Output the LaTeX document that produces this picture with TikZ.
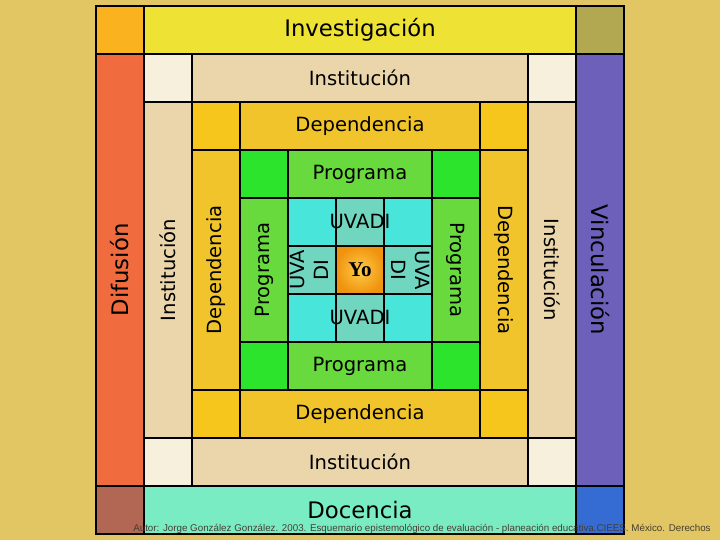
\documentclass[tikz,border=0pt]{standalone}
\usepackage{fontspec}
\usepackage{graphicx}
\usepackage{xcolor}
\setsansfont{DejaVu Sans}
\newfontfamily\piefont{Liberation Sans}
\newfontfamily\yofont{Liberation Serif}
\usetikzlibrary{positioning}

\definecolor{pergamino}{RGB}{226,198,100}
\definecolor{inv}{RGB}{238,226,52}
\definecolor{esqa}{RGB}{250,178,30}
\definecolor{esqb}{RGB}{178,168,82}
\definecolor{esqc}{RGB}{178,102,84}
\definecolor{esqd}{RGB}{52,108,212}
\definecolor{dif}{RGB}{240,108,62}
\definecolor{vin}{RGB}{108,96,186}
\definecolor{doc}{RGB}{122,236,196}
\definecolor{inst}{RGB}{234,214,170}
\definecolor{instesq}{RGB}{246,240,220}
\definecolor{dep}{RGB}{240,196,42}
\definecolor{depesq}{RGB}{246,198,28}
\definecolor{prog}{RGB}{104,218,62}
\definecolor{progesq}{RGB}{44,228,44}
\definecolor{uva}{RGB}{112,214,192}
\definecolor{uvaesq}{RGB}{72,230,218}
\definecolor{yo}{RGB}{240,148,16}
\definecolor{yoclaro}{RGB}{255,204,70}
\definecolor{pie}{RGB}{70,62,50}

\begin{document}
\begin{tikzpicture}[node distance=0pt,
  celda/.style={draw=black, line width=0.6pt, minimum size=1cm, inner sep=0pt, outer sep=0pt},
  grande/.style={celda, font=\sffamily\fontsize{13.5}{16}\selectfont},
  chica/.style={celda, font=\sffamily\fontsize{11.6}{14}\selectfont},
  texto/.style={font=\sffamily\fontsize{11.6}{14}\selectfont, inner sep=0pt}]
\useasboundingbox (0,0) rectangle (15,11.25);
\clip (0,0) rectangle (15,11.25);
\fill[pergamino] (0,0) rectangle (15,11.25);

% Anillo exterior
\node[celda, fill=esqa] (e0a) at (2.5,10.625) {};
\node[grande, fill=inv, minimum width=9cm, right=of e0a] (inv) {Investigación};
\node[celda, fill=esqb, right=of inv] (e0b) {};
\node[grande, fill=dif, minimum height=9cm, below=of e0a] (dif) {\rotatebox{90}{Difusión}};
\node[celda, fill=esqc, below=of dif] (e0c) {};
\node[grande, fill=doc, minimum width=9cm, right=of e0c] (doc) {Docencia};
\node[celda, fill=esqd, right=of doc] (e0d) {};
\node[grande, fill=vin, minimum height=9cm, below=of e0b] (vin) {\rotatebox{-90}{Vinculación}};

% Institucion
\node[celda, fill=instesq, below right=of e0a] (e1a) {};
\node[chica, fill=inst, minimum width=7cm, right=of e1a] (inst-n) {Institución};
\node[celda, fill=instesq, right=of inst-n] (e1b) {};
\node[chica, fill=inst, minimum height=7cm, below=of e1a] (inst-o) {\rotatebox{90}{Institución}};
\node[celda, fill=instesq, below=of inst-o] (e1c) {};
\node[chica, fill=inst, minimum width=7cm, right=of e1c] (inst-s) {Institución};
\node[celda, fill=instesq, right=of inst-s] (e1d) {};
\node[chica, fill=inst, minimum height=7cm, below=of e1b] (inst-e) {\rotatebox{-90}{Institución}};

% Dependencia
\node[celda, fill=depesq, below right=of e1a] (e2a) {};
\node[chica, fill=dep, minimum width=5cm, right=of e2a] (dep-n) {Dependencia};
\node[celda, fill=depesq, right=of dep-n] (e2b) {};
\node[chica, fill=dep, minimum height=5cm, below=of e2a] (dep-o) {\rotatebox{90}{Dependencia}};
\node[celda, fill=depesq, below=of dep-o] (e2c) {};
\node[chica, fill=dep, minimum width=5cm, right=of e2c] (dep-s) {Dependencia};
\node[celda, fill=depesq, right=of dep-s] (e2d) {};
\node[chica, fill=dep, minimum height=5cm, below=of e2b] (dep-e) {\rotatebox{-90}{Dependencia}};

% Programa
\node[celda, fill=progesq, below right=of e2a] (e3a) {};
\node[chica, fill=prog, minimum width=3cm, right=of e3a] (prog-n) {Programa};
\node[celda, fill=progesq, right=of prog-n] (e3b) {};
\node[chica, fill=prog, minimum height=3cm, below=of e3a] (prog-o) {\rotatebox{90}{Programa}};
\node[celda, fill=progesq, below=of prog-o] (e3c) {};
\node[chica, fill=prog, minimum width=3cm, right=of e3c] (prog-s) {Programa};
\node[celda, fill=progesq, right=of prog-s] (e3d) {};
\node[chica, fill=prog, minimum height=3cm, below=of e3b] (prog-e) {\rotatebox{-90}{Programa}};

% UVADI
\node[celda, fill=uvaesq, below right=of e3a] (e4a) {};
\node[celda, fill=uva, right=of e4a] (uva-n) {};
\node[celda, fill=uvaesq, right=of uva-n] (e4b) {};
\node[chica, fill=uva, below=of e4a] (uva-o) {\rotatebox{90}{\begin{tabular}{@{}c@{}}UVA\\DI\end{tabular}}};
\node[celda, fill=uvaesq, below=of uva-o] (e4c) {};
\node[celda, fill=uva, right=of e4c] (uva-s) {};
\node[celda, fill=uvaesq, right=of uva-s] (e4d) {};
\node[chica, fill=uva, below=of e4b] (uva-e) {\rotatebox{-90}{\begin{tabular}{@{}c@{}}UVA\\DI\end{tabular}}};
\node[texto] (t-n) at (uva-n) {UVADI};
\node[texto] (t-s) at (uva-s) {UVADI};

% Yo
\node[celda, inner color=yoclaro, outer color=yo, below right=of e4a,
  font=\yofont\bfseries\fontsize{12.5}{14}\selectfont] (yo) {Yo};

\draw[line width=1pt] (e0a.north west) rectangle (e0d.south east);
\node[anchor=base west, inner sep=0pt, text=pie, font=\piefont\fontsize{5.8}{7}\selectfont] (autor) at (2.77,0.17)
  {Autor: Jorge González González. 2003. Esquemario epistemológico de evaluación - planeación educativa.CIEES. México. Derechos};
\end{tikzpicture}
\end{document}
